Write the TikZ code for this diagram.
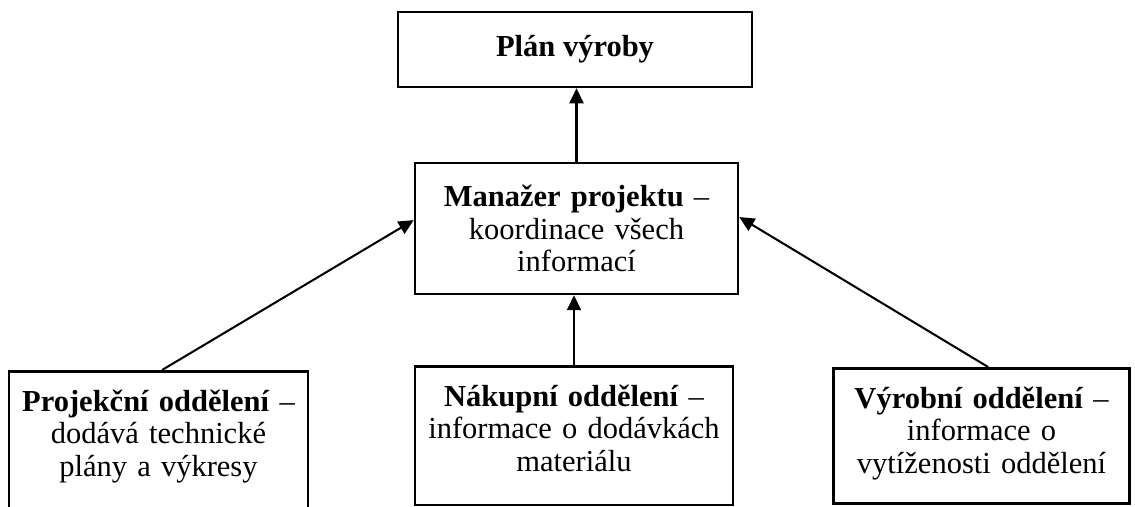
\documentclass[tikz,border=0pt]{standalone}
\usepackage{fontspec}
\setmainfont{Liberation Serif}
\usetikzlibrary{positioning, arrows.meta}
\tikzset{
>={Triangle[length=5.9pt, width=5.5pt]}, % filled arrow heads
box/.style={draw, line width=1pt, align=center, inner xsep=3pt, inner ysep=0pt, font=\fontsize{12pt}{12.8pt}\selectfont}, % every box
dept/.style={box, anchor=north, text height=15.7pt}, % department boxes, text from the top
flow/.style={->, line width=0.8pt}, % connectors
}

\begin{document}
\begin{tikzpicture}[x=0.3934pt, y=-0.3934pt]
                \useasboundingbox (0,0) rectangle (1135,506);

                \node[box, minimum width=139.3pt, minimum height=29.5pt] (plan) at (575,49.5) {\textbf{Plán výroby}};
                \node[box, text width=121pt, minimum width=127.1pt, minimum height=51.5pt] (mgr) at (576.5,228.5) {\textbf{Manažer projektu} –\\ koordinace všech\\ informací};

                \node[dept, text width=111.6pt, text depth=55pt] (proj) at (158.5,370) {\textbf{Projekční oddělení} –\\ dodává technické\\ plány a výkresy};
                \node[dept, text width=119.1pt, text depth=38.9pt] (nakup) at (574,365) {\textbf{Nákupní oddělení} –\\ informace o dodávkách\\ materiálu};
                \node[dept, text width=110.4pt, text depth=37.4pt] (vyroba) at (981.5,367) {\textbf{Výrobní oddělení} –\\ informace o\\ vytíženosti oddělení};

                \draw[flow] (mgr.north) -- (mgr.north |- plan.south);
                \draw[flow] (nakup.north) -- (nakup.north |- mgr.south);
                \draw[flow] ([xshift=1.4pt]proj.north) -- ([yshift=3.3pt]mgr.west);
                \draw[flow] ([xshift=2.6pt]vyroba.north) -- ([yshift=4.5pt]mgr.east);
\end{tikzpicture}
\end{document}
